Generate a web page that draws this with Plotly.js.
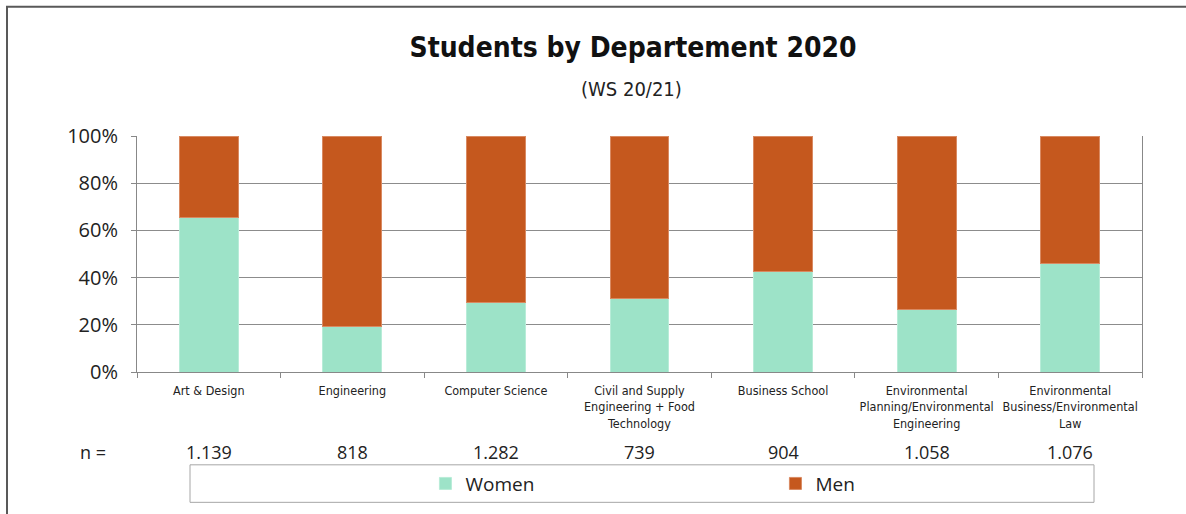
<!DOCTYPE html>
<html>
<head>
<meta charset="utf-8">
<script src="https://cdn.plot.ly/plotly-3.0.1.min.js"></script>
<style>
html,body{margin:0;padding:0;background:#fff;}
#chart{width:1186px;height:514px;}
#chart .gtitle, #chart .xtick text, #chart .annotation.sub text { font-stretch: condensed !important; }
</style>
</head>
<body>
<div id="chart"></div>
<script>
const categories = [
  "Art & Design",
  "Engineering",
  "Computer Science",
  "Civil and Supply<br>Engineering + Food<br>Technology",
  "Business School",
  "Environmental<br>Planning/Environmental<br>Engineering",
  "Environmental<br>Business/Environmental<br>Law"
];
const women = [65.4, 19.1, 29.6, 31.1, 42.7, 26.3, 46.0];
const men   = [34.6, 80.9, 70.4, 68.9, 57.3, 73.7, 54.0];
const nLabels = ["1.139", "818", "1.282", "739", "904", "1.058", "1.076"];
const yTicks = [0, 20, 40, 60, 80, 100];
const yTickLabels = ["0%", "20%", "40%", "60%", "80%", "100%"];

const baseFont = "Open Sans, Noto Sans, sans-serif";
const condFont = "DejaVu Sans Condensed, DejaVu Sans, sans-serif";

const traces = [
  {type: "bar", name: "Women", x: categories, y: women,
   marker: {color: "#9de3c8", line: {color: "#b8ecd8", width: 1}}, hoverinfo: "y"},
  {type: "bar", name: "Men", x: categories, y: men,
   marker: {color: "#c5581e", line: {color: "#d98a62", width: 1}}, hoverinfo: "y"}
];

const annotations = categories.map((c, i) => ({
  x: c, xref: "x", y: -0.339, yref: "paper", yanchor: "middle",
  text: nLabels[i], showarrow: false,
  font: {family: baseFont, size: 18, color: "#222"}
}));
annotations.push({
  x: (93-137)/1005, xref: "paper", xanchor: "center", y: -0.339, yref: "paper", yanchor: "middle",
  text: "n =", showarrow: false,
  font: {family: baseFont, size: 18, color: "#222"}
});
annotations.push({
  x: (631-137)/1005, xref: "paper", y: (375-88)/239, yref: "paper", yanchor: "middle",
  text: "(WS 20/21)", showarrow: false,
  font: {family: condFont, size: 20, color: "#222"}
});

const layout = {
  width: 1186, height: 514,
  margin: {l: 137, r: 44, t: 136, b: 139},
  paper_bgcolor: "#fff", plot_bgcolor: "#fff",
  barmode: "stack", bargap: 0.59,
  title: {
    text: "<b>Students by Departement 2020</b>",
    x: 633/1186, xref: "container", xanchor: "center",
    y: 1 - 47/514, yref: "container", yanchor: "middle",
    font: {family: condFont, size: 28, color: "#111"}
  },
  xaxis: {
    type: "category",
    showline: true, linecolor: "#888", linewidth: 1,
    ticks: "outside", tickson: "boundaries", ticklen: 5, tickcolor: "#888",
    ticklabelstandoff: 7,
    tickfont: {family: condFont, size: 12.5, color: "#222"},
    tickangle: 0, fixedrange: true
  },
  yaxis: {
    range: [0, 100], tickmode: "array", tickvals: yTicks, ticktext: yTickLabels,
    showline: true, mirror: true, linecolor: "#888", linewidth: 1,
    showgrid: true, gridcolor: "#8c8c8c", gridwidth: 1,
    zeroline: false,
    ticks: "outside", ticklen: 5, tickcolor: "#888", ticklabelstandoff: 9,
    tickfont: {family: baseFont, size: 20, color: "#222"},
    fixedrange: true
  },
  showlegend: true,
  legend: {
    orientation: "h", x: 0.287, xanchor: "left", y: -0.4728, yanchor: "middle",
    bgcolor: "rgba(0,0,0,0)", borderwidth: 0,
    font: {family: baseFont, size: 19, color: "#222"},
    entrywidth: 305, entrywidthmode: "pixels", traceorder: "normal"
  },
  shapes: [
    {type: "rect", xref: "paper", yref: "paper",
     x0: (190-137)/1005, x1: (1094-137)/1005, y0: (375-507)/239, y1: (375-469)/239,
     line: {color: "#a6a6a6", width: 1}, fillcolor: "rgba(0,0,0,0)", layer: "below"},
    {type: "rect", xref: "paper", yref: "paper",
     x0: (7-137)/1005, x1: (1195-137)/1005, y0: (375-530)/239, y1: (375-5)/239,
     line: {color: "#595959", width: 2}, fillcolor: "rgba(0,0,0,0)", layer: "below"}
  ],
  annotations: annotations
};

Plotly.newPlot("chart", traces, layout, {displayModeBar: false, staticPlot: true}).then(() => {
  const anns = document.querySelectorAll("#chart .annotation");
  const last = anns[anns.length - 1];
  if (last) last.classList.add("sub");
});
</script>
</body>
</html>
